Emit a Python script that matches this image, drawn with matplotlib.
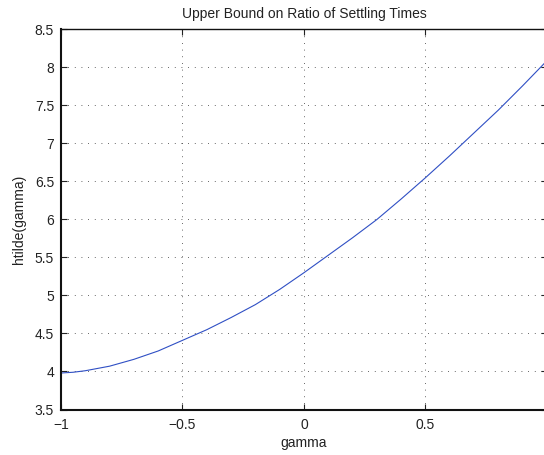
import matplotlib
matplotlib.use('Agg')
import matplotlib.pyplot as plt

# gamma values and the bound htilde(gamma)
gamma = [-1.0, -0.95, -0.9, -0.8, -0.7, -0.6, -0.5, -0.4, -0.3, -0.2, -0.1, 0.0,
         0.1, 0.2, 0.3, 0.4, 0.5, 0.6, 0.7, 0.8, 0.9, 1.0]
htilde = [3.98, 3.99, 4.01, 4.07, 4.16, 4.27, 4.41, 4.55, 4.71, 4.88, 5.08, 5.30,
          5.53, 5.76, 6.00, 6.27, 6.55, 6.84, 7.14, 7.44, 7.76, 8.09]

xticks = [-1, -0.5, 0, 0.5]
xticklabels = ['\u22121', '\u22120.5', '0', '0.5']
yticks = [3.5, 4, 4.5, 5, 5.5, 6, 6.5, 7, 7.5, 8, 8.5]
yticklabels = ['3.5', '4', '4.5', '5', '5.5', '6', '6.5', '7', '7.5', '8', '8.5']

plt.rcParams['font.family'] = ['Liberation Sans', 'DejaVu Sans']

fig = plt.figure(figsize=(5.44, 4.55), dpi=100)
# axes run a little past the right edge of the figure
ax = fig.add_axes([0.1121, 0.1, 0.8934, 0.8352])

ax.plot(gamma, htilde, color='#2f4fc4', lw=0.8)

ax.set_xlim(-1, 1)
ax.set_ylim(3.5, 8.5)
ax.set_xticks(xticks)
ax.set_yticks(yticks)
ax.set_xticklabels(xticklabels)
ax.set_yticklabels(yticklabels)

# matlab-ish look: inward ticks on all sides, dotted grid
ax.tick_params(direction='in', length=4, width=0.8, top=True, right=True,
               labelsize=10, colors='#222222')
ax.tick_params(axis='x', pad=6)
ax.tick_params(axis='y', pad=5)
for s in ax.spines.values():
    s.set_linewidth(1.0)
    s.set_color('#111111')
ax.spines['left'].set_linewidth(1.5)
ax.spines['bottom'].set_linewidth(1.5)
ax.grid(True, color='#333333', lw=0.6, linestyle=(0, (1, 7)))

ax.set_xlabel('gamma', fontsize=10, color='#222222', labelpad=3)
ax.set_ylabel('htilde(gamma)', fontsize=10, color='#222222', labelpad=6)
ax.set_title('Upper Bound on Ratio of Settling Times', fontsize=10,
             color='#222222', pad=8)

fig.savefig('out.png', dpi=100)
